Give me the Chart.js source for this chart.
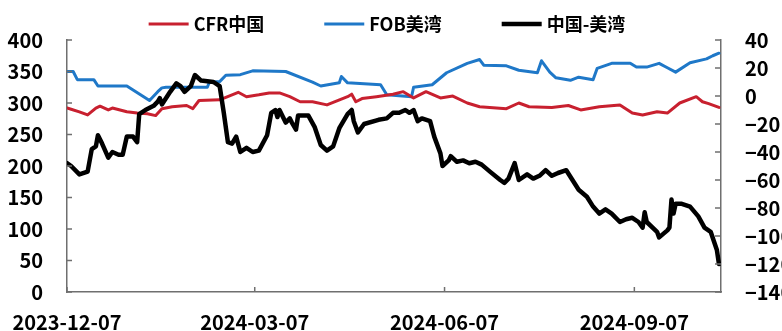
<!DOCTYPE html>
<html>
<head>
<meta charset="utf-8">
<script src="https://cdn.jsdelivr.net/npm/chart.js@4.4.1/dist/chart.umd.min.js"></script>
<style>
  html, body { margin: 0; padding: 0; background: #fff; }
  canvas { display: block; }
</style>
</head>
<body>
<canvas id="spreadChart" width="782" height="331"></canvas>
<script>
// x values are days counted from 2023-12-07
const tickDates = ['2023-12-07', '2024-03-07', '2024-06-07', '2024-09-07'];
const lastDay = 317;

const cfrDays = [0, 2, 6, 10, 14, 16, 20, 22, 29, 34, 39, 43, 46, 51, 58, 61, 64, 74, 80, 83, 87, 93, 98, 103, 108, 113, 119, 126, 136, 138, 140, 143, 150, 158, 163, 168, 174, 181, 187, 194, 200, 213, 219, 224, 235, 243, 249, 258, 268, 274, 279, 286, 291, 297, 305, 308, 311, 316];
const cfrPrices = [292, 290, 286, 281, 292, 295, 289, 292, 286, 284, 283, 280, 291, 294, 296, 291, 304, 305, 313, 317, 310, 313, 316, 316, 310, 302, 302, 297, 310, 314, 302, 307, 310, 314, 318, 308, 318, 308, 311, 300, 294, 291, 300, 294, 293, 296, 289, 294, 297, 284, 281, 286, 284, 300, 310, 302, 299, 293];

const fobDays = [0, 3, 5, 13, 15, 29, 40, 44, 46, 48, 68, 69, 74, 77, 84, 90, 106, 119, 123, 132, 133, 136, 152, 155, 167, 168, 177, 184, 194, 200, 202, 213, 219, 228, 230, 234, 237, 244, 248, 255, 257, 264, 273, 276, 281, 287, 291, 295, 302, 310, 313, 316];
const fobPrices = [350, 350, 337, 337, 327, 327, 304, 318, 324, 325, 325, 333, 334, 344, 345, 351, 350, 333, 327, 332, 342, 332, 329, 313, 310, 325, 329, 348, 363, 369, 360, 359, 352, 348, 367, 349, 340, 336, 341, 337, 355, 363, 363, 357, 357, 363, 356, 349, 364, 370, 375, 379];

const spreadDays = [0, 2, 6, 10, 12, 14, 15, 17, 20, 22, 25, 27, 29, 32, 34, 35, 38, 42, 44, 45, 46, 50, 53, 55, 57, 60, 62, 65, 71, 74, 76, 78, 80, 82, 84, 87, 90, 93, 97, 99, 101, 102, 103, 106, 108, 109, 111, 112, 117, 120, 123, 126, 129, 132, 136, 138, 139, 141, 144, 151, 155, 158, 161, 164, 166, 168, 170, 172, 176, 178, 181, 182, 185, 186, 189, 192, 195, 198, 201, 205, 210, 212, 214, 217, 219, 223, 226, 229, 232, 235, 238, 242, 248, 252, 255, 258, 261, 264, 268, 271, 274, 277, 279, 280, 281, 286, 287, 291, 292, 293, 294, 295, 298, 302, 306, 309, 312, 315, 316];
const spreadValues = [-48, -50, -56, -54, -38, -36, -28, -34, -44, -40, -42, -42, -29, -29, -33, -13, -10, -7, -4, -1.5, -6, 3, 9, 7, 3, 7, 15, 11, 10, 7, -12, -33, -34, -29, -40, -37, -40, -39, -28, -12, -10, -15, -10, -19, -16, -19, -24, -14, -14, -22, -35, -39, -36, -23, -13, -10, -18, -26, -20, -17, -16, -12, -12, -10, -12, -10, -18, -16, -18, -29, -41, -50, -46, -43, -47, -46, -48, -47, -49, -54, -60, -62, -59, -48, -60, -56, -59, -57, -53, -57, -55, -53, -67, -72, -79, -84, -81, -84, -90, -88, -87, -90, -94, -83, -90, -97, -101, -96, -94, -74, -84, -77, -77, -79, -86, -94, -97, -110, -120];

const RED = '#c8202f';
const BLUE = '#1f78c8';
const BLACK = '#000000';
const AXIS = '#6f6f6f';
const FONT = "'Noto Sans CJK SC', 'DejaVu Sans', sans-serif";

const startTime = Date.parse(tickDates[0]);
const tickDays = tickDates.map(d => Math.round((Date.parse(d) - startTime) / 86400000));

function toPoints(days, values) {
  return days.map((d, i) => ({ x: d, y: values[i] }));
}

// small tick marks pointing into the plot
const innerTicks = {
  id: 'innerTicks',
  afterDatasetsDraw(chart) {
    const { ctx, scales } = chart;
    const { x, y, y1 } = scales;
    ctx.save();
    ctx.strokeStyle = AXIS;
    ctx.lineWidth = 1.5;
    ctx.beginPath();
    y.ticks.forEach(t => {
      const p = y.getPixelForValue(t.value);
      ctx.moveTo(y.right, p);
      ctx.lineTo(y.right + 5, p);
    });
    y1.ticks.forEach(t => {
      const p = y1.getPixelForValue(t.value);
      ctx.moveTo(y1.left, p);
      ctx.lineTo(y1.left - 6, p);
    });
    x.ticks.forEach(t => {
      const p = x.getPixelForValue(t.value);
      ctx.moveTo(p, x.top);
      ctx.lineTo(p, x.top - 5);
    });
    ctx.stroke();
    ctx.restore();
  }
};

// legend row with long line swatches
const lineLegend = {
  id: 'lineLegend',
  afterDraw(chart) {
    const { ctx } = chart;
    const swatch = 40, gap = 5, spacing = 60, yMid = 24;
    ctx.save();
    ctx.font = 'bold 18px ' + FONT;
    ctx.textBaseline = 'middle';
    const items = chart.data.datasets.map(ds => ({
      label: ds.label,
      color: ds.borderColor,
      width: ds.borderWidth,
      textW: ctx.measureText(ds.label).width
    }));
    const total = items.reduce((s, it) => s + swatch + gap + it.textW, 0) + spacing * (items.length - 1);
    let xPos = (chart.width - total) / 2 - 4;
    items.forEach(it => {
      ctx.strokeStyle = it.color;
      ctx.lineWidth = it.width;
      ctx.beginPath();
      ctx.moveTo(xPos, yMid);
      ctx.lineTo(xPos + swatch, yMid);
      ctx.stroke();
      ctx.fillStyle = '#000';
      ctx.fillText(it.label, xPos + swatch + gap, yMid);
      xPos += swatch + gap + it.textW + spacing;
    });
    ctx.restore();
  }
};

const tickFont = { family: FONT, size: 20, weight: 'bold' };

new Chart(document.getElementById('spreadChart'), {
  type: 'line',
  data: {
    datasets: [
      {
        label: 'CFR中国',
        data: toPoints(cfrDays, cfrPrices),
        borderColor: RED,
        borderWidth: 3,
        yAxisID: 'y',
        order: 1
      },
      {
        label: 'FOB美湾',
        data: toPoints(fobDays, fobPrices),
        borderColor: BLUE,
        borderWidth: 3,
        yAxisID: 'y',
        order: 2
      },
      {
        label: '中国-美湾',
        data: toPoints(spreadDays, spreadValues),
        borderColor: BLACK,
        borderWidth: 4.5,
        yAxisID: 'y1',
        order: 0
      }
    ]
  },
  options: {
    responsive: false,
    animation: false,
    layout: { padding: { top: 40, right: 0, bottom: 0, left: 0 } },
    elements: {
      point: { radius: 0 },
      line: { tension: 0, borderJoinStyle: 'round', borderCapStyle: 'round' }
    },
    plugins: {
      legend: { display: false },
      tooltip: { enabled: false }
    },
    scales: {
      x: {
        type: 'linear',
        min: 0,
        max: lastDay,
        grid: { display: false },
        border: { display: true, color: AXIS, width: 1.5 },
        afterBuildTicks: scale => { scale.ticks = tickDays.map(v => ({ value: v })); },
        afterFit: scale => { scale.height = 39; },
        ticks: {
          autoSkip: false,
          maxRotation: 0,
          padding: 10,
          color: '#000',
          font: tickFont,
          callback: (v) => tickDates[tickDays.indexOf(v)]
        }
      },
      y: {
        position: 'left',
        min: 0,
        max: 400,
        grid: { display: false },
        border: { display: true, color: AXIS, width: 1.5 },
        afterFit: scale => { scale.width = 67; },
        ticks: { stepSize: 50, padding: 16, color: '#000', font: tickFont }
      },
      y1: {
        position: 'right',
        min: -140,
        max: 40,
        grid: { display: false },
        border: { display: true, color: AXIS, width: 1.5 },
        afterFit: scale => { scale.width = 61; },
        ticks: {
          stepSize: 20,
          padding: 16,
          color: '#000',
          font: tickFont,
          callback: v => String(v).replace('-', '\u2212')
        }
      }
    }
  },
  plugins: [innerTicks, lineLegend]
});
</script>
</body>
</html>
